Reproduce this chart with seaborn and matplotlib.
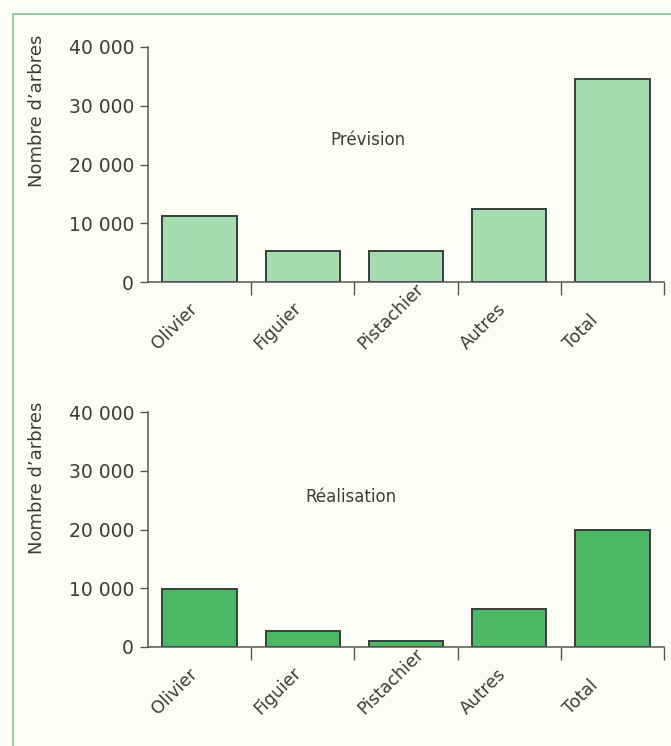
import matplotlib
matplotlib.use("Agg")
import matplotlib.pyplot as plt
from matplotlib.lines import Line2D
from matplotlib.ticker import FixedLocator, FuncFormatter, NullFormatter
from matplotlib.transforms import ScaledTranslation, blended_transform_factory
import seaborn as sns
import pandas as pd

# Data
categories = ["Olivier", "Figuier", "Pistachier", "Autres", "Total"]
prevision = [11200, 5300, 5300, 12400, 34600]
realisation = [9800, 2800, 1000, 6400, 20000]
y_ticks = [0, 10000, 20000, 30000, 40000]

sns.set_style("white")
plt.rcParams["font.family"] = ["DejaVu Sans"]

TEXT = "#3c3c3c"
AXIS = "#555555"
BG = "#fdfdf8"

fig = plt.figure(figsize=(6.71, 7.46), dpi=100, facecolor=BG)

# Page frame (left and top rules)
fig.add_artist(Line2D([12.5 / 671, 12.5 / 671], [0, 1 - 14 / 746],
                      color="#8fd09a", lw=1.4, transform=fig.transFigure))
fig.add_artist(Line2D([12.5 / 671, 1], [1 - 14 / 746, 1 - 14 / 746],
                      color="#8fd09a", lw=1.4, transform=fig.transFigure))

ax_left = 148 / 671
ax_w = (664 - 148) / 671
ax_h = 235 / 746

panels = [
    (prevision, "#a5ddb1", 1 - 282 / 746, "Prévision", (0.426, 0.604), 1 - 111 / 746),
    (realisation, "#4cb866", 1 - 647 / 746, "Réalisation", (0.393, 0.638), 1 - 478 / 746),
]

fmt = FuncFormatter(lambda v, p: f"{int(v):,}".replace(",", " "))

for values, color, bottom, title, tpos, ylab_y in panels:
    ax = fig.add_axes([ax_left, bottom, ax_w, ax_h])
    ax.set_facecolor(BG)
    df = pd.DataFrame({"cat": categories, "val": values})
    sns.barplot(data=df, x="cat", y="val", ax=ax, color=color, width=0.72,
                edgecolor="#34403a", linewidth=1.4, saturation=1)
    ax.set_xlim(-0.5, 4.5)
    ax.set_ylim(0, 40000)
    ax.set_xlabel("")
    ax.set_ylabel("")

    # y axis
    ax.yaxis.set_major_locator(FixedLocator(y_ticks))
    ax.yaxis.set_major_formatter(fmt)
    ax.tick_params(axis="y", direction="out", length=6, width=1, color=AXIS,
                   labelsize=13.5, labelcolor=TEXT, pad=4, left=True)

    # x axis: tick marks between categories
    ax.xaxis.set_major_locator(FixedLocator([0.5, 1.5, 2.5, 3.5, 4.5]))
    ax.xaxis.set_major_formatter(NullFormatter())
    ax.tick_params(axis="x", which="major", direction="out", length=9,
                   width=1, color=AXIS, bottom=True)

    # category names, slanted, starting under each bar's left side
    base = blended_transform_factory(ax.transData, ax.transAxes)
    shift = ScaledTranslation(-0.42, -0.68, fig.dpi_scale_trans)
    for i, name in enumerate(categories):
        ax.text(i, 0, name, transform=base + shift, rotation=45,
                rotation_mode="anchor", ha="left", va="baseline",
                fontsize=12.5, color=TEXT, clip_on=False)

    for s in ("top", "right"):
        ax.spines[s].set_visible(False)
    for s in ("left", "bottom"):
        ax.spines[s].set_color(AXIS)
        ax.spines[s].set_linewidth(1.1)

    ax.text(tpos[0], tpos[1], title, transform=ax.transAxes, ha="center",
            va="center", fontsize=12, color=TEXT)
    fig.text(37 / 671, ylab_y, "Nombre d\u2019arbres", rotation=90,
             ha="center", va="center", fontsize=13, color=TEXT)

fig.savefig("out.png", dpi=100, facecolor=BG)
